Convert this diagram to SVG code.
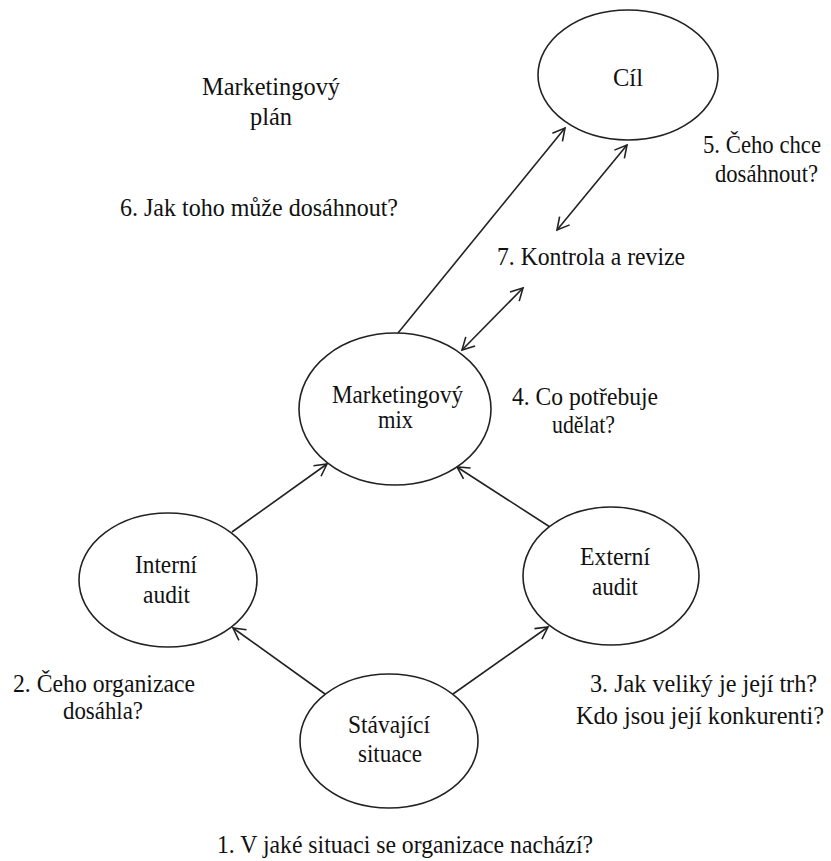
<svg xmlns="http://www.w3.org/2000/svg" width="831" height="861" viewBox="0 0 831 861">
<style>
  .node { fill: #ffffff; stroke: #222222; stroke-width: 1.6; }
  .c { stroke: #222222; stroke-width: 1.6; fill: none; }
</style>
<defs>
  <marker id="arr" markerUnits="userSpaceOnUse" markerWidth="16" markerHeight="16" viewBox="0 0 16 16" refX="14" refY="8" orient="auto-start-reverse">
    <path d="M2,1.5 L14,8 L2,14.5" fill="none" stroke="#222222" stroke-width="1.6"/>
  </marker>
</defs>
<rect width="831" height="861" fill="#ffffff"/>

<g id="connectors">
  <line class="c" x1="398" y1="333" x2="565" y2="128" marker-end="url(#arr)"/>
  <line class="c" x1="627" y1="145" x2="557" y2="230" marker-start="url(#arr)" marker-end="url(#arr)"/>
  <line class="c" x1="523" y1="288" x2="462" y2="350" marker-start="url(#arr)" marker-end="url(#arr)"/>
  <line class="c" x1="232" y1="532" x2="327" y2="464" marker-end="url(#arr)"/>
  <line class="c" x1="550" y1="527" x2="457" y2="467" marker-end="url(#arr)"/>
  <line class="c" x1="325" y1="694" x2="233" y2="628" marker-end="url(#arr)"/>
  <line class="c" x1="453" y1="694" x2="548" y2="627" marker-end="url(#arr)"/>
</g>

<g font-family="Liberation Serif, serif" font-size="25" fill="#111111">
<g id="node-cil">
  <ellipse class="node" cx="628" cy="75" rx="90" ry="65"/>
  <text x="613" y="86" textLength="30" lengthAdjust="spacingAndGlyphs">Cíl</text>
</g>

<g id="node-mix">
  <ellipse class="node" cx="395" cy="409" rx="96" ry="76"/>
  <text x="332" y="403" textLength="131" lengthAdjust="spacingAndGlyphs">Marketingový</text>
  <text x="378" y="428" textLength="35" lengthAdjust="spacingAndGlyphs">mix</text>
</g>

<g id="node-interni">
  <ellipse class="node" cx="168" cy="580" rx="89" ry="67"/>
  <text x="135" y="573" textLength="62" lengthAdjust="spacingAndGlyphs">Interní</text>
  <text x="143" y="603" textLength="47" lengthAdjust="spacingAndGlyphs">audit</text>
</g>

<g id="node-externi">
  <ellipse class="node" cx="611" cy="576" rx="88" ry="69"/>
  <text x="580" y="565" textLength="70" lengthAdjust="spacingAndGlyphs">Externí</text>
  <text x="592" y="595" textLength="46" lengthAdjust="spacingAndGlyphs">audit</text>
</g>

<g id="node-stavajici">
  <ellipse class="node" cx="389" cy="741" rx="89" ry="67"/>
  <text x="348" y="733" textLength="82" lengthAdjust="spacingAndGlyphs">Stávající</text>
  <text x="358" y="762" textLength="64" lengthAdjust="spacingAndGlyphs">situace</text>
</g>

<g id="labels">
  <text x="202" y="95" textLength="138" lengthAdjust="spacingAndGlyphs">Marketingový</text>
  <text x="250" y="125" textLength="42" lengthAdjust="spacingAndGlyphs">plán</text>
  <text x="120" y="216" textLength="278" lengthAdjust="spacingAndGlyphs">6. Jak toho může dosáhnout?</text>
  <text x="703" y="153" textLength="118" lengthAdjust="spacingAndGlyphs">5. Čeho chce</text>
  <text x="715" y="182" textLength="103" lengthAdjust="spacingAndGlyphs">dosáhnout?</text>
  <text x="497" y="265" textLength="188" lengthAdjust="spacingAndGlyphs">7. Kontrola a revize</text>
  <text x="512" y="405" textLength="146" lengthAdjust="spacingAndGlyphs">4. Co potřebuje</text>
  <text x="552" y="433" textLength="63" lengthAdjust="spacingAndGlyphs">udělat?</text>
  <text x="13" y="692" textLength="182" lengthAdjust="spacingAndGlyphs">2. Čeho organizace</text>
  <text x="63" y="719" textLength="80" lengthAdjust="spacingAndGlyphs">dosáhla?</text>
  <text x="590" y="692" textLength="227" lengthAdjust="spacingAndGlyphs">3. Jak veliký je její trh?</text>
  <text x="576" y="724" textLength="248" lengthAdjust="spacingAndGlyphs">Kdo jsou její konkurenti?</text>
  <text x="217" y="853" textLength="376" lengthAdjust="spacingAndGlyphs">1. V jaké situaci se organizace nachází?</text>
</g>
</g>
</svg>
